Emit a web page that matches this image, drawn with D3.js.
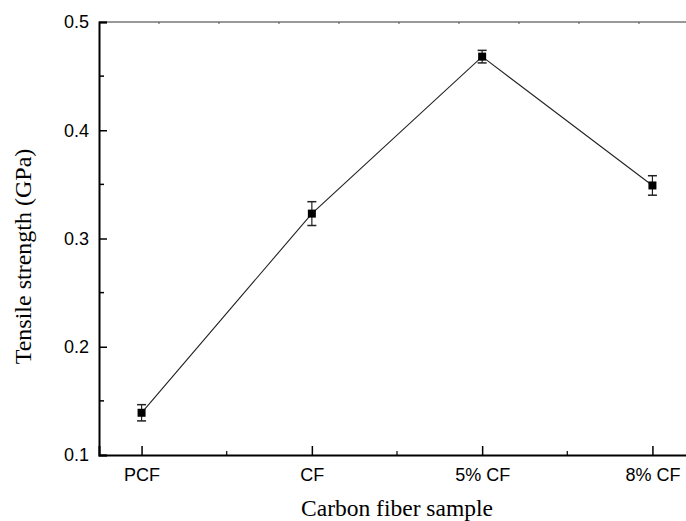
<!DOCTYPE html>
<html>
<head>
<meta charset="utf-8">
<script src="https://cdn.jsdelivr.net/npm/d3@7"></script>
<style>
  body { margin: 0; background: #fff; }
  svg { display: block; }
  .tick text { font-family: "Liberation Sans", Arial, sans-serif; font-size: 18px; fill: #000; }
</style>
</head>
<body>
<div id="vis"></div>
<script>
// Chart data
var samples = ["PCF", "CF", "5% CF", "8% CF"];
var strength = [0.139, 0.323, 0.468, 0.349];
var errors = [0.0075, 0.011, 0.0058, 0.009];
var yTicks = [0.1, 0.2, 0.3, 0.4, 0.5];

var width = 686,
    height = 521,
    margin = { top: 22, right: -9, bottom: 66, left: 99 },
    drawWidth = width - margin.left - margin.right,
    drawHeight = height - margin.top - margin.bottom;

var svg = d3.select("#vis").append("svg")
    .attr("width", width)
    .attr("height", height);

var g = svg.append("g")
    .attr("transform", "translate(" + margin.left + "," + margin.top + ")");

var x = d3.scaleLinear()
    .domain([-0.25, samples.length - 0.75])
    .range([0, drawWidth]);

var y = d3.scaleLinear()
    .domain([0.1, 0.5])
    .range([drawHeight, 0]);

// top frame line (grey, with small ticks)
g.append("line")
    .attr("x1", 0).attr("x2", drawWidth)
    .attr("y1", 0).attr("y2", 0)
    .attr("stroke", "#777").attr("stroke-width", 1.5);
g.selectAll(".topTick")
    .data(d3.range(60, drawWidth, 60))
    .enter().append("line")
    .attr("class", "topTick")
    .attr("x1", function(d) { return d; })
    .attr("x2", function(d) { return d; })
    .attr("y1", 0).attr("y2", 2)
    .attr("stroke", "#555").attr("stroke-width", 1);

// y axis: major ticks inward, minor ticks between
var yAxis = d3.axisLeft(y)
    .tickValues(yTicks)
    .tickFormat(d3.format(".1f"))
    .tickSize(-8)
    .tickPadding(10);

var gy = g.append("g").attr("class", "y axis").call(yAxis);
gy.select(".domain").attr("stroke", "#000").attr("stroke-width", 2);
gy.selectAll(".tick line").attr("stroke-width", 1.5);

g.selectAll(".yMinor")
    .data([0.15, 0.25, 0.35, 0.45])
    .enter().append("line")
    .attr("class", "yMinor")
    .attr("x1", 0).attr("x2", 5)
    .attr("y1", function(d) { return y(d); })
    .attr("y2", function(d) { return y(d); })
    .attr("stroke", "#000").attr("stroke-width", 1.5);

// x axis
var xAxis = d3.axisBottom(x)
    .tickValues(d3.range(samples.length))
    .tickFormat(function(d) { return samples[d]; })
    .tickSize(-9)
    .tickPadding(13);

var gx = g.append("g")
    .attr("class", "x axis")
    .attr("transform", "translate(0," + drawHeight + ")")
    .call(xAxis);
gx.select(".domain").attr("stroke", "#000").attr("stroke-width", 2);
gx.selectAll(".tick line").attr("stroke-width", 1.5);

g.selectAll(".xMinor")
    .data([0.5, 1.5, 2.5])
    .enter().append("line")
    .attr("class", "xMinor")
    .attr("x1", function(d) { return x(d); })
    .attr("x2", function(d) { return x(d); })
    .attr("y1", drawHeight).attr("y2", drawHeight - 4)
    .attr("stroke", "#000").attr("stroke-width", 1.2);

// connecting line
var line = d3.line()
    .x(function(d, i) { return x(i); })
    .y(function(d) { return y(d); });

g.append("path")
    .datum(strength)
    .attr("d", line)
    .attr("fill", "none")
    .attr("stroke", "#222")
    .attr("stroke-width", 1.1);

// error bars
var eb = g.selectAll(".err")
    .data(strength)
    .enter().append("g")
    .attr("class", "err");

eb.append("line")
    .attr("x1", function(d, i) { return x(i); })
    .attr("x2", function(d, i) { return x(i); })
    .attr("y1", function(d, i) { return y(d - errors[i]); })
    .attr("y2", function(d, i) { return y(d + errors[i]); })
    .attr("stroke", "#222").attr("stroke-width", 1.2);

eb.selectAll(".cap")
    .data(function(d, i) { return [{ v: d - errors[i], i: i }, { v: d + errors[i], i: i }]; })
    .enter().append("line")
    .attr("class", "cap")
    .attr("x1", function(d) { return x(d.i) - 4.5; })
    .attr("x2", function(d) { return x(d.i) + 4.5; })
    .attr("y1", function(d) { return y(d.v); })
    .attr("y2", function(d) { return y(d.v); })
    .attr("stroke", "#222").attr("stroke-width", 1.5);

// square markers
g.selectAll(".pt")
    .data(strength)
    .enter().append("rect")
    .attr("class", "pt")
    .attr("x", function(d, i) { return x(i) - 4; })
    .attr("y", function(d) { return y(d) - 4; })
    .attr("width", 8).attr("height", 8)
    .attr("fill", "#000");

// axis titles
svg.append("text")
    .attr("x", 397)
    .attr("y", 516)
    .attr("text-anchor", "middle")
    .style("font-family", "'Liberation Serif', 'Times New Roman', serif")
    .style("font-size", "23.5px")
    .text("Carbon fiber sample");

svg.append("text")
    .attr("transform", "translate(31," + (margin.top + drawHeight / 2 + 18) + ") rotate(-90)")
    .attr("text-anchor", "middle")
    .style("font-family", "'Liberation Serif', 'Times New Roman', serif")
    .style("font-size", "24px")
    .text("Tensile strength (GPa)");
</script>
</body>
</html>
